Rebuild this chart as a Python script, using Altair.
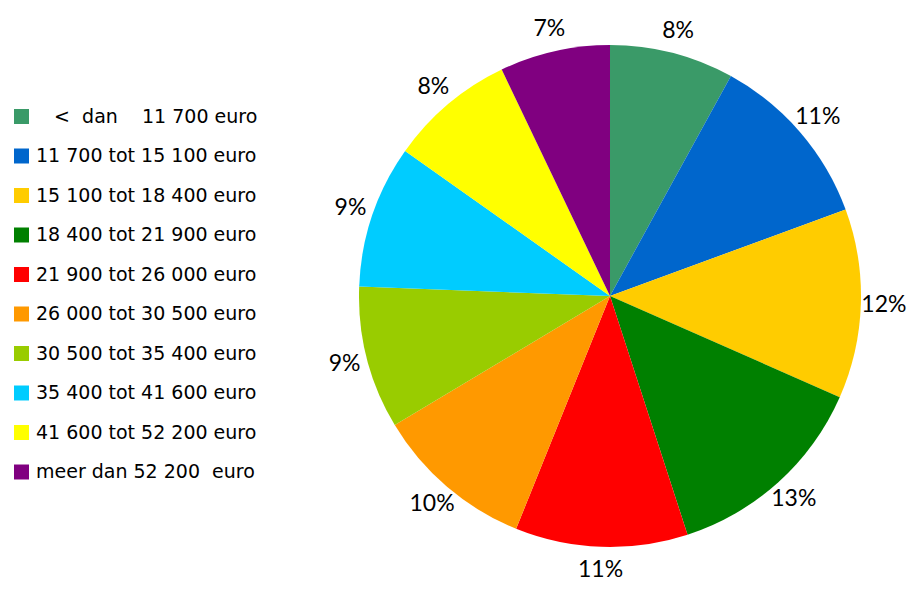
import altair as alt
import pandas as pd

NB = "\u00a0"
ZW = "\u200b"
categories = [
    ZW + NB * 3 + "<" + NB * 2 + "dan" + NB * 4 + "11" + NB + "700 euro",
    "11 700 tot 15 100 euro",
    "15 100 tot 18 400 euro",
    "18 400 tot 21 900 euro",
    "21 900 tot 26 000 euro",
    "26 000 tot 30 500 euro",
    "30 500 tot 35 400 euro",
    "35 400 tot 41 600 euro",
    "41 600 tot 52 200 euro",
    "meer dan 52 200" + NB * 2 + "euro",
]
shares = [8.0, 11.4, 12.2, 13.4, 11.1, 10.3, 9.2, 9.2, 8.1, 7.1]
colors = ["#3A9A68", "#0066CC", "#FFCC00", "#008000", "#FF0000",
          "#FF9900", "#99CC00", "#00CCFF", "#FFFF00", "#800080"]

df = pd.DataFrame({
    "cat": categories,
    "share": shares,
    "idx": list(range(len(categories))),
})
df["label"] = df["share"].round(0).astype(int).astype(str) + "%"

CX, CY = 602, 288

base = alt.Chart(df).encode(
    theta=alt.Theta("share:Q", stack=True),
    order=alt.Order("idx:Q", sort="ascending"),
)

pie = base.mark_arc(radius=251).encode(
    x=alt.value(CX), y=alt.value(CY),
    color=alt.Color(
        "cat:N",
        scale=alt.Scale(domain=categories, range=colors),
        sort=categories,
        legend=alt.Legend(
            title=None, orient="none", legendX=4, legendY=99,
            symbolType="square", symbolSize=225, symbolStrokeWidth=0,
            labelFont="DejaVu Sans", labelFontSize=19, labelColor="#000000",
            labelOffset=5, rowPadding=19.5, labelLimit=400,
        ),
    ),
)

labels = base.mark_text(radius=274, font="Lato", fontSize=23, color="#000000").encode(
    x=alt.value(CX), y=alt.value(CY),
    text="label:N",
)

chart = alt.layer(pie, labels).properties(
    width=906, height=574, padding=0, autosize=alt.AutoSizeParams(type="none"),
).configure_view(stroke=None)

chart.save("out.html", embed_options={"renderer": "svg", "actions": False})
